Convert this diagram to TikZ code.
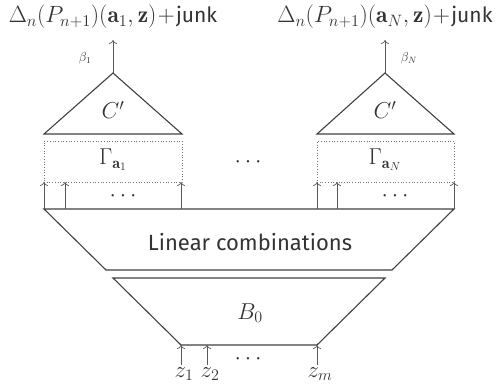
\RequirePackage{fix-cm}
\documentclass[tikz,border=0pt]{standalone}
\usepackage{fontspec}
\setsansfont{Fira Sans}
\usepackage{amsmath}
\usetikzlibrary{arrows.meta}
\begin{document}
\begin{tikzpicture}[x=1pt,y=-1pt,
  every node/.style={text=black!80, inner sep=0pt},
  block/.style={draw=black!75, line width=1.1pt, line join=miter},
  inarrow/.style={-{To[length=4pt,width=8pt]}, draw=black!65, line width=0.7pt},
  dotbox/.style={draw=black!55, dotted, line width=0.7pt},
  big/.style={font=\fontsize{23}{26}\selectfont},
  dots/.style={font=\fontsize{23}{26}\selectfont, text height=3pt, text depth=0pt},
  toplab/.style={font=\fontsize{23.5}{26}\selectfont},
  small/.style={font=\fontsize{13}{15}\selectfont}]
\useasboundingbox (0,0) rectangle (496,388);
% top outputs
\node[toplab] (outL) at (113,17) {$\Delta_n(P_{n+1})(\mathbf{a}_1,\mathbf{z})\!+\!\text{\fontsize{21}{24}\selectfont\sffamily junk}$};
\node[toplab] (outR) at (385,17) {$\Delta_n(P_{n+1})(\mathbf{a}_N,\mathbf{z})\!+\!\text{\fontsize{21}{24}\selectfont\sffamily junk}$};
% triangles
\coordinate (apexL) at (113,73);
\coordinate (apexR) at (385,73);
\draw[block] (44,134) -- (apexL) -- (182,134) -- cycle;
\draw[block] (317,134) -- (apexR) -- (454,134) -- cycle;
\node[big] (CL) at (113,110) {$C'$};
\node[big] (CR) at (385,110) {$C'$};
\coordinate (topL) at (113,40);
\coordinate (topR) at (385,40);
\draw[inarrow] (apexL) -- (topL);
\draw[inarrow] (apexR) -- (topR);
\node[small] (betaL) at (85,58) {$\beta_1$};
\node[small] (betaR) at (409,58) {$\beta_N$};
% dotted boxes
\node[dotbox, minimum width=138pt, minimum height=41pt] (GL) at (113,161.5) {};
\node[dotbox, minimum width=137pt, minimum height=41pt] (GR) at (385.5,161.5) {};
\node[big] (GLlab) at (113,160) {$\Gamma_{\mathbf{a}_1}$};
\node[big] (GRlab) at (385,160) {$\Gamma_{\mathbf{a}_N}$};
\node[dots] (mdots) at (250,166) {$\cdots$};
% linear combinations
\draw[block] (44,209) -- (454,209) -- (392,270) -- (106,270) -- cycle;
\node[font=\sffamily\fontsize{22}{25}\selectfont] (lin) at (250,242) {Linear combinations};
% arrows into Gamma boxes
\foreach \x/\n in {44/a1,65/a2,181/a3,317/b1,337/b2,454/b3}{
  \coordinate (s\n) at (\x,209);
  \coordinate (e\n) at (\x,182);
  \draw[inarrow] (s\n) -- (e\n);
}
\node[dots] (dL) at (125,200) {$\cdots$};
\node[dots] (dR) at (397,200) {$\cdots$};
% B0
\draw[block] (113,278) -- (385,278) -- (317,345) -- (181,345) -- cycle;
\node[big] (B0) at (250,313) {$B_0$};
% inputs
\foreach \x/\n/\l in {181/z1/z_1,207/z2/z_2,317/zm/z_m}{
  \coordinate (t\n) at (\x,345);
  \coordinate (f\n) at (\x,365);
  \draw[inarrow] (f\n) -- (t\n);
  \node[big, anchor=north] (l\n) at (\x+3,367) {$\l$};
}
\node[dots] (zd) at (250,363) {$\cdots$};
\end{tikzpicture}
\end{document}
